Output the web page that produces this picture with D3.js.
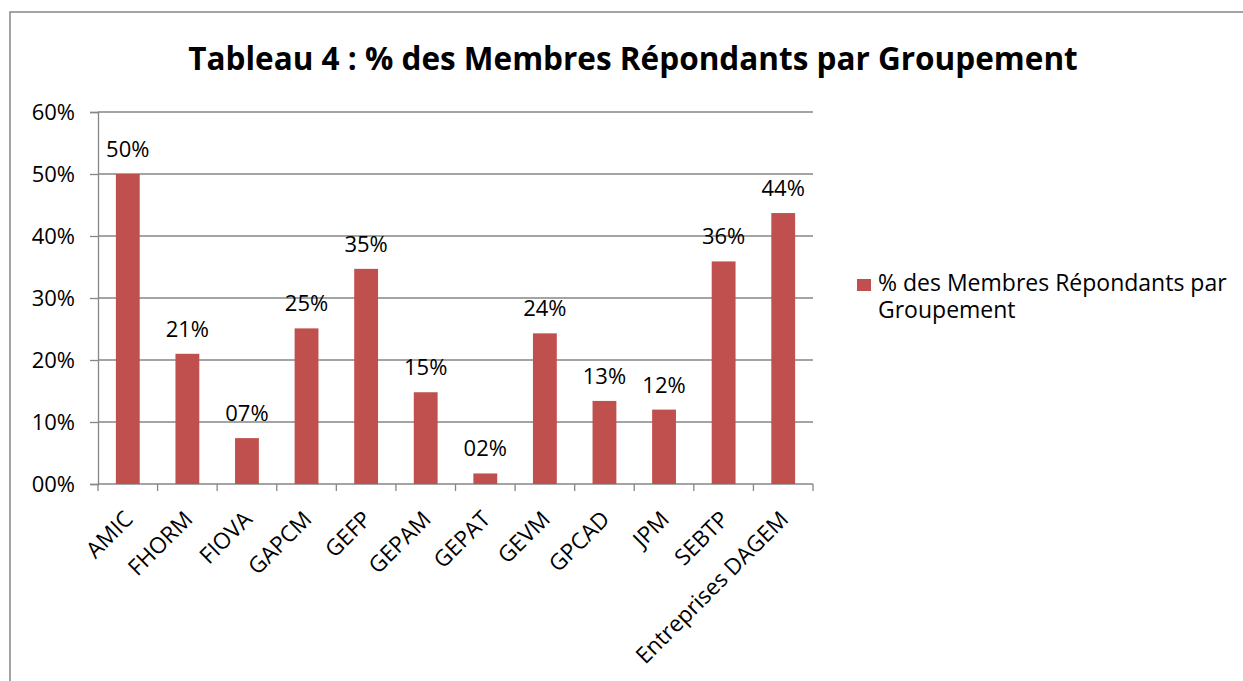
<!DOCTYPE html>
<html lang="fr">
<head>
<meta charset="utf-8">
<title>Tableau 4</title>
<script src="https://d3js.org/d3.v7.min.js"></script>
<style>
  body { margin: 0; background: #fff; }
  text { font-family: "Open Sans", "DejaVu Sans", sans-serif; fill: #000; }
</style>
</head>
<body>
<div id="chart"></div>
<script>
// data
let groupes = ["AMIC", "FHORM", "FIOVA", "GAPCM", "GEFP", "GEPAM", "GEPAT", "GEVM", "GPCAD", "JPM", "SEBTP", "Entreprises DAGEM"];
let pourcentages = [0.50, 0.21, 0.074, 0.251, 0.347, 0.148, 0.017, 0.243, 0.134, 0.12, 0.359, 0.437];
let yTicks = [0, 0.1, 0.2, 0.3, 0.4, 0.5, 0.6];
let titre = "Tableau 4 : % des Membres Répondants par Groupement";
let legende = ["% des Membres Répondants par", "Groupement"];

let width = 1243, height = 681;
let plotLeft = 98, plotRight = 813, plotTop = 112, plotBottom = 484;
let barColor = "#c0504d";
let lineColor = "#868686";
let fontSize = "22px";

let svg = d3.select("#chart").append("svg")
  .attr("width", width)
  .attr("height", height);

// outer frame
svg.append("rect")
  .attr("x", 10).attr("y", 12)
  .attr("width", width + 20).attr("height", height + 20)
  .attr("fill", "none")
  .attr("stroke", lineColor)
  .attr("stroke-width", 1.5);

svg.append("text")
  .attr("x", 633).attr("y", 70)
  .attr("text-anchor", "middle")
  .style("font-size", "31.5px")
  .style("font-weight", "bold")
  .text(titre);

let x = d3.scaleBand().domain(groupes).range([plotLeft, plotRight]).paddingInner(0.6).paddingOuter(0.3);
let y = d3.scaleLinear().domain([0, 0.6]).range([plotBottom, plotTop]);
let fmt = d3.format("03.0%");

// gridlines
svg.append("g").selectAll("line")
  .data(yTicks.slice(1))
  .enter().append("line")
  .attr("x1", plotLeft).attr("x2", plotRight)
  .attr("y1", d => y(d)).attr("y2", d => y(d))
  .attr("stroke", lineColor).attr("stroke-width", 1.3);

// y axis
let yAxis = svg.append("g")
  .attr("transform", "translate(" + plotLeft + ",0)")
  .call(d3.axisLeft(y).tickValues(yTicks).tickFormat(fmt).tickSize(8).tickPadding(15));
yAxis.attr("font-family", null);
yAxis.select(".domain").attr("stroke", lineColor).attr("stroke-width", 1.3);
yAxis.selectAll(".tick line").attr("stroke", lineColor).attr("stroke-width", 1.3);
yAxis.selectAll("text").style("font-size", fontSize);

// x axis, ticks on band edges
let edges = d3.range(groupes.length + 1).map(i => plotLeft + i * (plotRight - plotLeft) / groupes.length);
let xAxis = svg.append("g");
xAxis.append("line")
  .attr("x1", plotLeft).attr("x2", plotRight).attr("y1", plotBottom).attr("y2", plotBottom)
  .attr("stroke", lineColor).attr("stroke-width", 1.3);
xAxis.selectAll(".tk").data(edges).enter().append("line")
  .attr("x1", d => d).attr("x2", d => d)
  .attr("y1", plotBottom).attr("y2", plotBottom + 7)
  .attr("stroke", lineColor).attr("stroke-width", 1.3);

let bandCenter = d => x(d) + x.bandwidth() / 2;

xAxis.selectAll(".lbl").data(groupes).enter().append("text")
  .attr("transform", d => "translate(" + (bandCenter(d) + 1) + "," + (plotBottom + 31) + ") rotate(-45)")
  .attr("text-anchor", "end")
  .attr("dy", "0.35em")
  .style("font-size", "22.5px")
  .text(d => d);

// bars
svg.append("g").selectAll("rect")
  .data(groupes)
  .enter().append("rect")
  .attr("x", d => x(d))
  .attr("width", x.bandwidth())
  .attr("y", (d, i) => y(pourcentages[i]))
  .attr("height", (d, i) => plotBottom - y(pourcentages[i]))
  .attr("fill", barColor);

// data labels
svg.append("g").selectAll("text")
  .data(groupes)
  .enter().append("text")
  .attr("x", d => bandCenter(d))
  .attr("y", (d, i) => y(pourcentages[i]) - 17)
  .attr("text-anchor", "middle")
  .style("font-size", fontSize)
  .text((d, i) => fmt(Math.round(pourcentages[i] * 100) / 100));

// legend
let leg = svg.append("g");
leg.append("rect")
  .attr("x", 857).attr("y", 279)
  .attr("width", 14).attr("height", 12)
  .attr("fill", barColor);
leg.append("text")
  .attr("y", 291)
  .style("font-size", "23px")
  .selectAll("tspan").data(legende).enter().append("tspan")
  .attr("x", 878)
  .attr("dy", (d, i) => i === 0 ? 0 : 27)
  .text(d => d);
</script>
</body>
</html>
